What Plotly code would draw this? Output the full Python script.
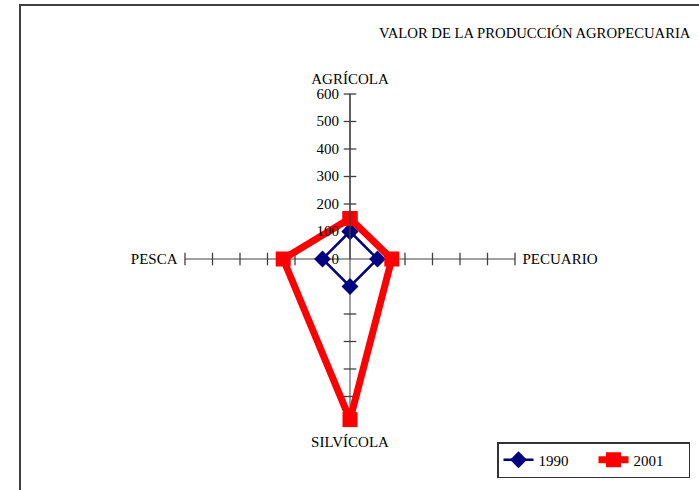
import plotly.graph_objects as go

categories = ["AGRÍCOLA", "PECUARIO", "SILVÍCOLA", "PESCA"]
values_1990 = [100, 100, 100, 100]
values_2001 = [147, 152, 584, 243]
radial_ticks = [0, 100, 200, 300, 400, 500, 600]

SERIF = "Liberation Serif, Times New Roman, serif"
AXIS_COLOR = "#404040"
CLEAR = "rgba(0,0,0,0)"


def closed(seq):
    return list(seq) + [seq[0]]


fig = go.Figure()

# tick marks crossing each spoke, as in the Excel radar
for cat in categories:
    symbol = "line-ew" if cat in ("AGRÍCOLA", "SILVÍCOLA") else "line-ns"
    fig.add_trace(
        go.Scatterpolar(
            r=radial_ticks[1:],
            theta=[cat] * (len(radial_ticks) - 1),
            mode="markers",
            marker=dict(symbol=symbol, size=9, line=dict(color=AXIS_COLOR, width=1.3)),
            showlegend=False,
            hoverinfo="skip",
        )
    )

fig.add_trace(
    go.Scatterpolar(
        r=closed(values_1990),
        theta=closed(categories),
        mode="lines+markers",
        name="1990",
        line=dict(color="#000080", width=2.5),
        marker=dict(symbol="diamond", size=13, color="#000080"),
    )
)
fig.add_trace(
    go.Scatterpolar(
        r=closed(values_2001),
        theta=closed(categories),
        mode="lines+markers",
        name="2001",
        line=dict(color="#FF0000", width=7),
        marker=dict(symbol="square", size=15, color="#FF0000"),
    )
)

fig.update_layout(
    width=699,
    height=490,
    margin=dict(l=0, r=0, t=0, b=0),
    paper_bgcolor="white",
    plot_bgcolor="white",
    font=dict(family=SERIF, size=15, color="black"),
    polar=dict(
        domain=dict(x=[185 / 699, 515 / 699], y=[66 / 490, 396 / 490]),
        bgcolor=CLEAR,
        angularaxis=dict(
            rotation=90,
            direction="clockwise",
            categoryorder="array",
            categoryarray=categories,
            showline=False,
            showgrid=True,
            gridcolor=AXIS_COLOR,
            gridwidth=1.3,
            ticks="outside",
            ticklen=4,
            tickcolor=CLEAR,
            tickfont=dict(family=SERIF, size=15),
        ),
        radialaxis=dict(
            range=[0, 600],
            angle=90,
            tickvals=radial_ticks,
            showgrid=False,
            showline=True,
            linecolor=AXIS_COLOR,
            linewidth=1.3,
            ticks="outside",
            ticklen=5,
            tickcolor=CLEAR,
            side="counterclockwise",
            tickangle=90,
            tickfont=dict(family=SERIF, size=15),
        ),
    ),
    legend=dict(
        orientation="h",
        x=690 / 699,
        y=12 / 490,
        xanchor="right",
        yanchor="bottom",
        bordercolor="#333333",
        borderwidth=1.5,
        bgcolor="white",
        entrywidth=50,
        entrywidthmode="pixels",
        font=dict(family=SERIF, size=15),
    ),
    annotations=[
        dict(
            text="VALOR DE LA PRODUCCIÓN AGROPECUARIA",
            xref="paper",
            yref="paper",
            x=693 / 699,
            y=1 - 33 / 490,
            xanchor="right",
            yanchor="middle",
            showarrow=False,
            font=dict(family=SERIF, size=14.7),
        )
    ],
    shapes=[
        dict(
            type="rect",
            xref="paper",
            yref="paper",
            x0=20 / 699,
            x1=1.05,
            y0=-0.05,
            y1=1 - 5 / 490,
            line=dict(color=AXIS_COLOR, width=2),
        )
    ],
)

fig.write_html(
    "out.html",
    config={"displayModeBar": False},
    post_script="document.body.style.margin='0';",
)
